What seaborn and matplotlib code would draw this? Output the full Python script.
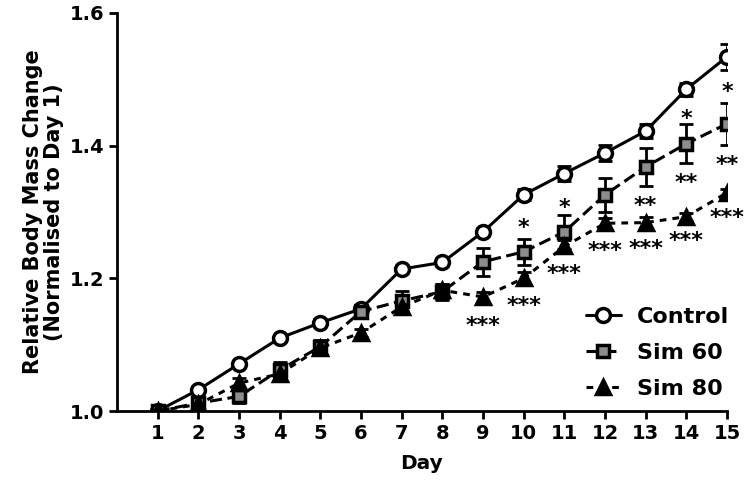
import numpy as np
import pandas as pd
import seaborn as sns
import matplotlib.pyplot as plt

days = list(range(1, 16))
control = [1.000, 1.032, 1.071, 1.110, 1.133, 1.154, 1.214, 1.224, 1.270, 1.326, 1.358, 1.389, 1.422, 1.485, 1.534]
control_err = [0.003, 0.004, 0.004, 0.004, 0.005, 0.006, 0.005, 0.006, 0.006, 0.008, 0.012, 0.012, 0.010, 0.010, 0.020]
sim60 = [1.000, 1.012, 1.022, 1.062, 1.097, 1.150, 1.166, 1.180, 1.225, 1.240, 1.270, 1.326, 1.368, 1.403, 1.433]
sim60_err = [0.004, 0.006, 0.010, 0.012, 0.010, 0.010, 0.015, 0.012, 0.021, 0.020, 0.026, 0.026, 0.029, 0.029, 0.032]
sim80 = [1.000, 1.010, 1.042, 1.056, 1.095, 1.118, 1.157, 1.182, 1.172, 1.200, 1.248, 1.283, 1.284, 1.293, 1.329]
sim80_err = [0.003, 0.005, 0.008, 0.008, 0.008, 0.006, 0.008, 0.010, 0.008, 0.010, 0.010, 0.008, 0.008, 0.006, 0.006]

# significance labels: (day, text, visual centre)
star_days = [9, 10, 10, 11, 11, 12, 13, 13, 14, 14, 14, 15, 15, 15]
star_text = ["***", "*", "***", "*", "***", "***", "**", "***", "*", "**", "***", "*", "**", "***"]
star_y = [1.137, 1.285, 1.167, 1.315, 1.216, 1.250, 1.318, 1.253, 1.449, 1.353, 1.265, 1.489, 1.380, 1.299]

df = pd.DataFrame({
    "Day": days * 3,
    "Value": control + sim60 + sim80,
    "Err": control_err + sim60_err + sim80_err,
    "Group": ["Control"] * 15 + ["Sim 60"] * 15 + ["Sim 80"] * 15,
})

sns.set_theme(style="ticks")
plt.rcParams["font.family"] = ["DejaVu Sans"]
plt.rcParams["font.weight"] = "bold"
for k in ["text.color", "axes.labelcolor", "xtick.color", "ytick.color", "axes.edgecolor"]:
    plt.rcParams[k] = "black"

fig = plt.figure(figsize=(7.47, 4.92), dpi=100)
ax = fig.add_axes([0.1566, 0.1646, 0.8166, 0.809])

styles = {
    "Control": dict(marker="o", markerfacecolor="white", linestyle="-", ms=10),
    "Sim 60": dict(marker="s", markerfacecolor="#8c8c8c", linestyle=(0, (4, 1.8)), ms=9),
    "Sim 80": dict(marker="^", markerfacecolor="black", linestyle=(0, (2.2, 2)), ms=10.5),
}

for name, st in styles.items():
    sub = df[df["Group"] == name]
    ax.errorbar(sub["Day"], sub["Value"], yerr=sub["Err"], fmt="none", ecolor="black",
                elinewidth=2, capsize=5, capthick=2, zorder=2)
    sns.lineplot(data=sub, x="Day", y="Value", ax=ax, color="black", label=name,
                 marker=st["marker"], markerfacecolor=st["markerfacecolor"],
                 markeredgecolor="black", markeredgewidth=2.5, markersize=st["ms"],
                 linestyle=st["linestyle"], linewidth=2.2, zorder=3)

for d, t, y in zip(star_days, star_text, star_y):
    ax.annotate(t, (d, y), xytext=(0, -8.5), textcoords="offset points",
                ha="center", va="baseline", fontsize=16, fontweight="bold", color="black")

ax.set_xlim(0, 15)
ax.set_ylim(1.0, 1.6)
ax.set_xticks(days)
ax.set_yticks([1.0, 1.2, 1.4, 1.6])
ax.set_yticklabels(["1.0", "1.2", "1.4", "1.6"])
ax.tick_params(axis="both", width=2, length=6, labelsize=14, direction="out", pad=3,
               colors="black")
for lab in ax.get_xticklabels() + ax.get_yticklabels():
    lab.set_fontweight("bold")
for s in ["left", "bottom"]:
    ax.spines[s].set_linewidth(2)
    ax.spines[s].set_color("black")
sns.despine(ax=ax)

ax.set_xlabel("Day", fontsize=14.5, fontweight="bold", labelpad=8, color="black")
ax.set_ylabel("Relative Body Mass Change\n(Normalised to Day 1)", fontsize=15,
              fontweight="bold", labelpad=4, linespacing=1.05, color="black")

leg = ax.legend(loc="lower right", bbox_to_anchor=(1.036, -0.02), frameon=False,
                fontsize=16, handlelength=1.6, labelspacing=0.73, handletextpad=0.7)
for t in leg.get_texts():
    t.set_fontweight("bold")
    t.set_color("black")

fig.savefig("out.png", dpi=100)
